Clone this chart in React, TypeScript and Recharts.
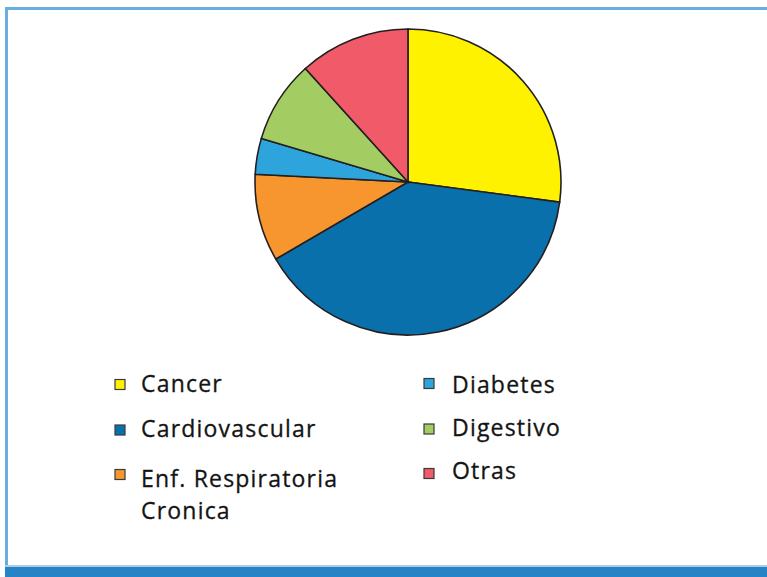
import React from 'react';
import { PieChart, Pie, Cell, Legend } from 'recharts';

const categories = ['Cancer', 'Cardiovascular', 'Enf. Respiratoria Cronica', 'Diabetes', 'Digestivo', 'Otras'];
const values = [27.1, 39.5, 9.2, 3.8, 8.7, 11.7];
const colors = ['#FFF200', '#0A70AC', '#F7962E', '#2EA4DD', '#A3CD62', '#F05A69'];
const legendLines: string[][] = [['Cancer'], ['Cardiovascular'], ['Enf. Respiratoria', 'Cronica'], ['Diabetes'], ['Digestivo'], ['Otras']];

const data = categories.map((name, i) => ({ name, value: values[i] }));

const W = 767;
const H = 577;

const LegendContent = () => {
  const colMarkerX = [115, 424];
  const colTextX = [141, 452];
  const markerY = [[384.5, 430, 474.5], [383.5, 429, 473.5]];
  const baseY = [[392, 437, 486.5], [393, 436, 479]];
  return (
    <svg width={W} height={H} style={{ position: 'absolute', left: 0, top: 0 }}>
      {categories.map((c, i) => {
        const col = i < 3 ? 0 : 1;
        const row = i % 3;
        const my = markerY[col][row];
        const by = baseY[col][row];
        return (
          <g key={c}>
            <rect x={colMarkerX[col]} y={my - 5} width={10} height={10} fill={colors[i]} stroke="#3a3a3a" strokeWidth={1.2} />
            {legendLines[i].map((ln, j) => (
              <text
                key={j}
                x={colTextX[col]}
                y={by + j * 32}
                fontFamily="'Open Sans', sans-serif"
                fontSize={23}
                letterSpacing={1.2}
                fill="#141414"
                stroke="#141414"
                strokeWidth={0.3}
              >
                {ln}
              </text>
            ))}
          </g>
        );
      })}
    </svg>
  );
};

export default function App() {
  return (
    <div style={{ position: 'absolute', left: 0, top: 0, width: W, height: H, background: '#fff', overflow: 'hidden' }}>
      <div style={{ position: 'absolute', left: 5, top: 7, width: W - 5, height: 3, background: '#6AAEE0' }} />
      <div style={{ position: 'absolute', left: 5, top: 7, width: 3, height: 560, background: '#6AAEE0' }} />
      <div style={{ position: 'absolute', left: 5, top: 565, width: W - 5, height: 2, background: '#A9CDEB' }} />
      <div style={{ position: 'absolute', left: 5, top: 567, width: W - 5, height: 10, background: '#2683C6' }} />
      <div style={{ position: 'absolute', left: 0, top: 0 }}>
        <PieChart width={W} height={H} margin={{ top: 0, right: 0, bottom: 0, left: 0 }}>
          <Pie
            data={data}
            dataKey="value"
            nameKey="name"
            cx={408}
            cy={182}
            outerRadius={153}
            startAngle={90}
            endAngle={-270}
            stroke="#231F20"
            strokeWidth={1.6}
            isAnimationActive={false}
          >
            {data.map((d, i) => (
              <Cell key={d.name} fill={colors[i]} />
            ))}
          </Pie>
          <Legend
            content={<LegendContent />}
            wrapperStyle={{ position: 'absolute', left: 0, top: 0, width: W, height: H }}
          />
        </PieChart>
      </div>
    </div>
  );
}
